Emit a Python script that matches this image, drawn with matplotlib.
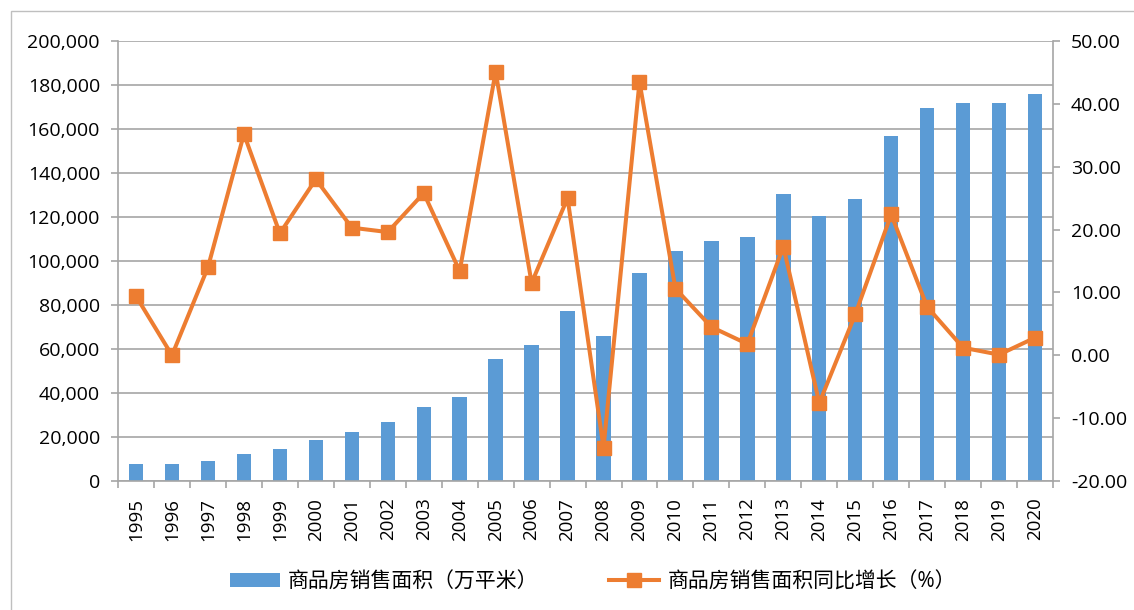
import numpy as np
import matplotlib
matplotlib.use('Agg')
import matplotlib.pyplot as plt
from matplotlib.ticker import FuncFormatter, FixedLocator
from matplotlib.patches import Rectangle

plt.rcParams['font.family'] = ['Open Sans', 'Noto Sans CJK SC', 'DejaVu Sans']

years = [str(y) for y in range(1995, 2021)]
# 商品房销售面积（万平米）
area = [7900, 7900, 9000, 12200, 14500, 18600, 22400, 26800, 33700, 38200,
        55500, 61700, 77300, 65900, 94500, 104600, 109200, 111100, 130300, 120500,
        128200, 157000, 169400, 171600, 171600, 176100]
# 同比增长（%）
growth = [9.4, 0.0, 14.0, 35.2, 19.4, 28.0, 20.3, 19.6, 25.8, 13.4,
          45.1, 11.5, 25.0, -14.7, 43.5, 10.6, 4.5, 1.8, 17.3, -7.6,
          6.5, 22.4, 7.7, 1.2, 0.1, 2.8]

bar_label = '商品房销售面积（万平米）'
line_label = '商品房销售面积同比增长（%）'

blue = '#5B9BD5'
orange = '#ED7D31'
grid_c = '#a6a6a6'

fig = plt.figure(figsize=(11.34, 6.1), dpi=100)
ax = fig.add_axes([0.1041, 0.2115, 0.8245, 0.7213])
ax2 = ax.twinx()

x = np.arange(len(years))
bars = ax.bar(x, area, width=0.4, color=blue, label=bar_label, zorder=2)
line, = ax2.plot(x, growth, color=orange, linewidth=2.9, marker='s',
                 markersize=10, label=line_label, zorder=3)

ax.set_xlim(-0.5, len(years) - 0.5)
ax.set_ylim(0, 200000)
ax.set_yticks(np.arange(0, 200001, 20000))
ax.yaxis.set_major_formatter(FuncFormatter(lambda v, p: f'{int(v):,}'))
ax2.set_ylim(-20, 50)
ax2.set_yticks(np.arange(-20, 51, 10))
ax2.yaxis.set_major_formatter(FuncFormatter(lambda v, p: f'{v:.2f}'))

ax.set_xticks(x)
ax.set_xticklabels(years, rotation=90)
ax.xaxis.set_minor_locator(FixedLocator(np.arange(-0.5, len(years), 1)))
ax.tick_params(axis='x', which='major', length=0, pad=12, labelsize=13.5)
ax.tick_params(axis='x', which='minor', length=5, width=1.2, color=grid_c)
ax.tick_params(axis='y', length=5, width=1.2, color=grid_c, pad=8, labelsize=14)
ax2.tick_params(axis='y', length=5, width=1.2, color=grid_c, pad=8, labelsize=14)

ax.set_axisbelow(True)
ax.yaxis.grid(True, color=grid_c, linewidth=1.2)
for a in (ax, ax2):
    for s in a.spines.values():
        s.set_visible(False)
    a.spines['left'].set_visible(a is ax)
    a.spines['right'].set_visible(a is ax2)
    a.spines['bottom'].set_visible(a is ax)
    for s in ('left', 'right', 'bottom'):
        a.spines[s].set_color(grid_c)
        a.spines[s].set_linewidth(1.2)

fig.legend(handles=[bars, line], loc='center', bbox_to_anchor=(0.523, 0.046),
           ncol=2, frameon=False, fontsize=15, handlelength=2.4,
           columnspacing=3.4, handletextpad=0.4)

# chart frame
fig.patches.append(Rectangle((11 / 1134, -0.2), 2, 1.2 - 11 / 610,
                             transform=fig.transFigure, fill=False,
                             edgecolor='#bfbfbf', linewidth=1))

fig.savefig('out.png', dpi=100)
